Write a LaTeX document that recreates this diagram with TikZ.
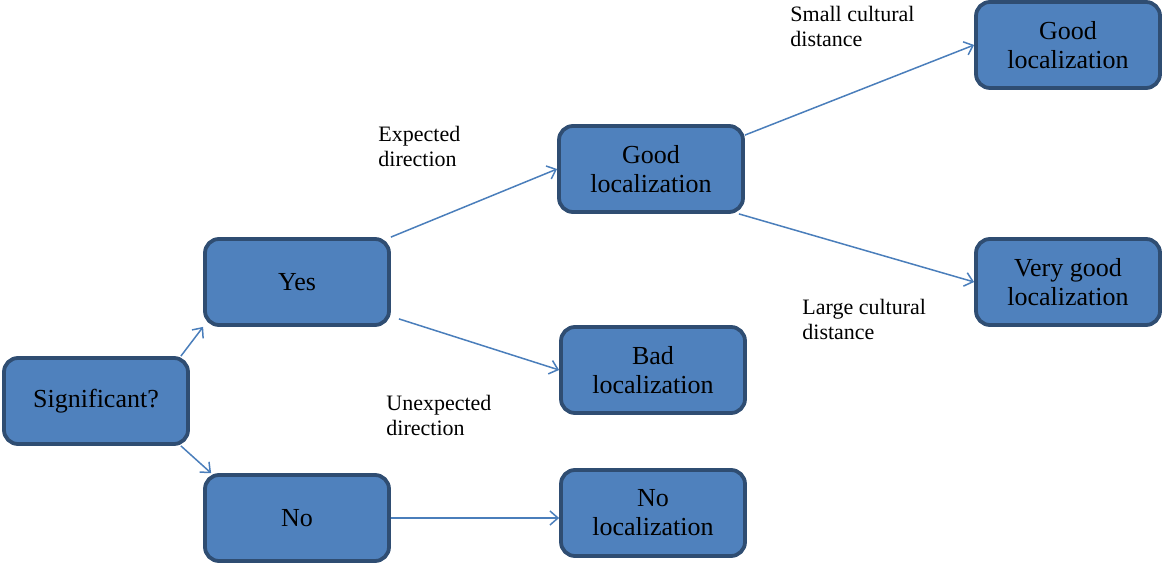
\documentclass[tikz,border=0pt]{standalone}
\usepackage{fontspec}
\setmainfont{Liberation Serif}
\usetikzlibrary{arrows.meta}
\definecolor{boxfill}{HTML}{4F81BD}
\definecolor{boxline}{HTML}{2F4D72}
\definecolor{arrcol}{HTML}{4A7EBB}
\begin{document}
\begin{tikzpicture}[x=0.5pt,y=-0.5pt,
  box/.style={draw=boxline, line width=1.9pt, fill=boxfill, rounded corners=7pt,
    minimum width=92pt, minimum height=43pt, align=center, inner sep=0pt,
    font=\fontsize{13pt}{14.5pt}\selectfont},
  lbl/.style={align=left, inner sep=0pt, anchor=north west,
    font=\fontsize{11pt}{12.5pt}\selectfont},
  conn/.style={draw=arrcol, line width=0.75pt, -{Straight Barb[length=4pt,width=7pt]}}]
\useasboundingbox (0,0) rectangle (1165,565);
\node[box] (sig) at (96,401) {Significant?};
\node[box] (yes) at (297,282) {Yes};
\node[box] (no) at (297,518) {No};
\node[box] (good) at (651,169) {Good\\localization};
\node[box] (bad) at (653,370) {Bad\\localization};
\node[box] (noloc) at (653,513) {No\\localization};
\node[box] (gtr) at (1068,45) {Good\\localization};
\node[box] (vg) at (1068,282) {Very good\\localization};
\node[lbl] (l1) at (378,126) {Expected\\direction};
\node[lbl] (l2) at (386,395) {Unexpected\\direction};
\node[lbl] (l3) at (790,6) {Small cultural\\distance};
\node[lbl] (l4) at (802,299) {Large cultural\\distance};
\draw[conn] ([xshift=-4.5pt]sig.north east) -- (yes.south west);
\draw[conn] ([xshift=-4.5pt]sig.south east) -- ([xshift=4pt]no.north west);
\draw[conn] (yes.north east) -- (good.west);
\draw[conn] ([xshift=4pt,yshift=4pt]yes.south east) -- (bad.west);
\draw[conn] (no.east) -- (no.east -| noloc.west);
\draw[conn] ([yshift=-5.5pt]good.north east) -- (gtr.west);
\draw[conn] ([xshift=-3pt]good.south east) -- (vg.west);
\end{tikzpicture}
\end{document}
